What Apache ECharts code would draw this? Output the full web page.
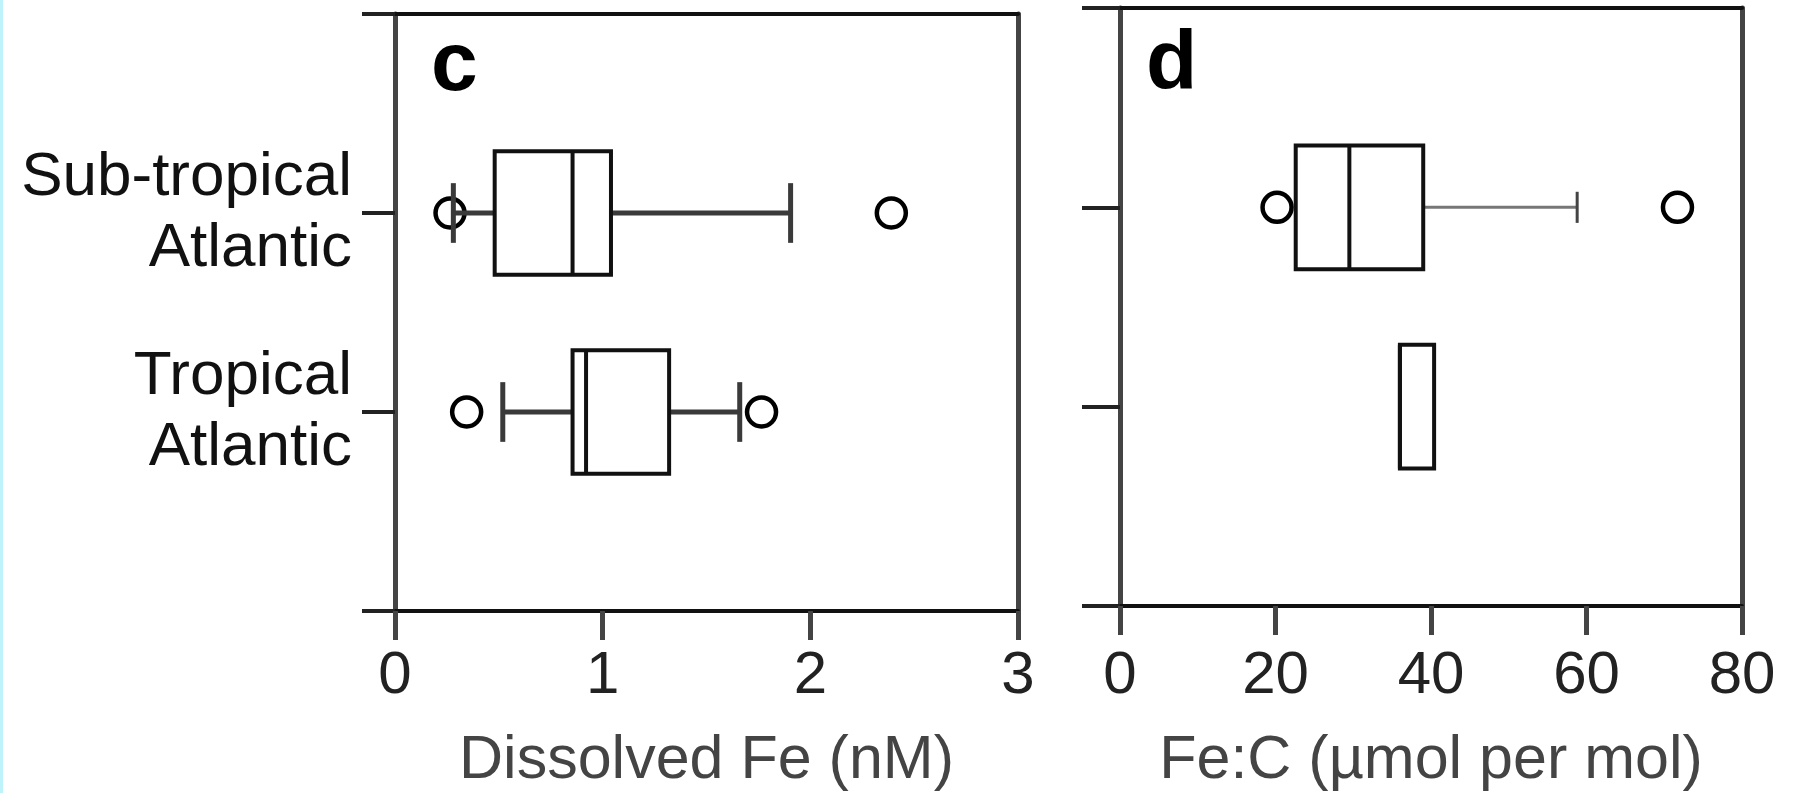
<!DOCTYPE html>
<html><head><meta charset="utf-8">
<script src="https://cdn.jsdelivr.net/npm/echarts@6/dist/echarts.min.js"></script>
<style>
html,body{margin:0;padding:0;background:#fff;overflow:hidden}
#chart{position:absolute;left:0;top:0;width:1802px;height:793px}
#edge{position:absolute;left:0;top:0;width:3px;height:793px;background:#bff3fb;z-index:5}
</style></head>
<body><div id="chart"></div><div id="edge"></div>
<script>
// ---- data ----
const categories = ['Sub-tropical\nAtlantic', 'Tropical\nAtlantic'];
// [lower whisker, Q1, median, Q3, upper whisker]
const feSubBox = [0.281, 0.48, 0.855, 1.04, 1.905];
const feTropBox = [0.519, 0.855, 0.92, 1.32, 1.66];
const feSubOutliers = [0.265, 2.39];
const feTropOutliers = [0.345, 1.765];
const feTicks = [0, 1, 2, 3];

const fecSubBox = [22.6, 22.6, 29.5, 39.0, 58.8];
const fecTropBox = [36.0, 36.0, 36.0, 40.4, 40.4];
const fecSubOutliers = [20.2, 71.7];
const fecTropOutliers = [];
const fecTicks = [0, 20, 40, 60, 80];

const FONT = "'Liberation Sans', Arial, Helvetica, sans-serif";
const yCats = [''].concat(categories, ['']);

function makeRender(st) {
  return function (params, api) {
    const cat = api.value(0);
    const lo = api.value(1), q1 = api.value(2), med = api.value(3), q3 = api.value(4), hi = api.value(5);
    const yc = api.coord([q1, cat])[1];
    const step = Math.abs(api.coord([q1, cat + 1])[1] - yc);
    const bh = step * st.boxHalf, ch = step * st.capHalf;
    const X = v => api.coord([v, cat])[0];
    const w = { stroke: st.whiskerColor, lineWidth: st.whiskerWidth };
    const c = { stroke: st.capColor, lineWidth: st.capWidth };
    const children = [];
    if (lo < q1) {
      children.push({ type: 'line', shape: { x1: X(lo), y1: yc, x2: X(q1), y2: yc }, style: w });
      children.push({ type: 'line', shape: { x1: X(lo), y1: yc - ch, x2: X(lo), y2: yc + ch }, style: c });
    }
    if (hi > q3) {
      children.push({ type: 'line', shape: { x1: X(q3), y1: yc, x2: X(hi), y2: yc }, style: w });
      children.push({ type: 'line', shape: { x1: X(hi), y1: yc - ch, x2: X(hi), y2: yc + ch }, style: c });
    }
    children.push({ type: 'rect', shape: { x: X(q1), y: yc - bh, width: X(q3) - X(q1), height: 2 * bh },
      style: { fill: '#fff', stroke: st.boxColor, lineWidth: st.boxWidth } });
    children.push({ type: 'line', shape: { x1: X(med), y1: yc - bh, x2: X(med), y2: yc + bh },
      style: { stroke: st.boxColor, lineWidth: st.boxWidth } });
    return { type: 'group', children: children };
  };
}

function bottomAxis(gi, ticks, name, labelMargin, nameGap) {
  return {
    gridIndex: gi, type: 'value', position: 'bottom',
    min: ticks[0], max: ticks[ticks.length - 1], interval: ticks[1] - ticks[0],
    axisLine: { show: true, onZero: false, lineStyle: { color: '#111', width: 4 } },
    axisTick: { show: true, length: 29, lineStyle: { color: '#444', width: 5 } },
    axisLabel: { fontSize: 60, margin: labelMargin, color: '#222', fontFamily: FONT },
    splitLine: { show: false },
    name: name, nameLocation: 'middle', nameGap: nameGap,
    nameTextStyle: { fontSize: 61, color: '#444', fontFamily: FONT }
  };
}
function topAxis(gi, ticks) {
  return {
    gridIndex: gi, type: 'value', position: 'top',
    min: ticks[0], max: ticks[ticks.length - 1],
    axisLine: { show: true, onZero: false, lineStyle: { color: '#111', width: 4 } },
    axisTick: { show: false }, axisLabel: { show: false }, splitLine: { show: false }
  };
}
function leftAxis(gi, tickLen, showLabels) {
  return {
    gridIndex: gi, type: 'category', data: yCats, inverse: true, boundaryGap: false,
    axisLine: { show: true, onZero: false, lineStyle: { color: '#444', width: 5 } },
    axisTick: { show: true, length: tickLen, interval: 0, lineStyle: { color: '#222', width: 4 } },
    axisLabel: { show: showLabels, interval: 0, fontSize: 62, lineHeight: 71, color: '#111',
      margin: 43, fontFamily: FONT, padding: [0, 0, 12, 0] },
    splitLine: { show: false }
  };
}
function rightAxis(gi) {
  return {
    gridIndex: gi, type: 'value', position: 'right',
    axisLine: { show: true, onZero: false, lineStyle: { color: '#444', width: 5 } },
    axisTick: { show: false }, axisLabel: { show: false }, splitLine: { show: false }
  };
}

const styleC = { boxHalf: 0.31, capHalf: 0.15, whiskerColor: '#3a3a3a', whiskerWidth: 5,
  capColor: '#3a3a3a', capWidth: 5, boxColor: '#111', boxWidth: 4 };
const styleD = { boxHalf: 0.31, capHalf: 0.078, whiskerColor: '#777', whiskerWidth: 3,
  capColor: '#444', capWidth: 3, boxColor: '#111', boxWidth: 4 };

const outlierStyle = { color: 'rgba(0,0,0,0)', borderColor: '#000', borderWidth: 4.5, opacity: 1 };

const chart = echarts.init(document.getElementById('chart'), null, { renderer: 'canvas' });
chart.setOption({
  backgroundColor: '#fff',
  animation: false,
  title: [
    { text: 'c', left: 431, top: 25, padding: 0, textStyle: { fontSize: 84, fontWeight: 'bold', color: '#000', fontFamily: FONT } },
    { text: 'd', left: 1146, top: 24, padding: 0, textStyle: { fontSize: 84, fontWeight: 'bold', color: '#000', fontFamily: FONT } }
  ],
  grid: [
    { left: 395, top: 14, width: 623, height: 597, containLabel: false, outerBoundsMode: 'none' },
    { left: 1120, top: 8, width: 622, height: 598, containLabel: false, outerBoundsMode: 'none' }
  ],
  xAxis: [
    bottomAxis(0, feTicks, 'Dissolved Fe (nM)', 35, 120),
    topAxis(0, feTicks),
    bottomAxis(1, fecTicks, 'Fe:C (\u00b5mol per mol)', 40, 125),
    topAxis(1, fecTicks)
  ],
  yAxis: [
    leftAxis(0, 33, true),
    rightAxis(0),
    leftAxis(1, 38, false),
    rightAxis(1)
  ],
  series: [
    { type: 'scatter', xAxisIndex: 0, yAxisIndex: 0, z: 1, symbol: 'circle', symbolSize: 29,
      itemStyle: outlierStyle, silent: true,
      data: feSubOutliers.map(v => [v, 1]).concat(feTropOutliers.map(v => [v, 2])) },
    { type: 'custom', xAxisIndex: 0, yAxisIndex: 0, z: 2, renderItem: makeRender(styleC),
      encode: { x: [1, 2, 3, 4, 5], y: 0 },
      data: [[1].concat(feSubBox), [2].concat(feTropBox)] },
    { type: 'scatter', xAxisIndex: 2, yAxisIndex: 2, z: 1, symbol: 'circle', symbolSize: 29,
      itemStyle: outlierStyle, silent: true,
      data: fecSubOutliers.map(v => [v, 1]).concat(fecTropOutliers.map(v => [v, 2])) },
    { type: 'custom', xAxisIndex: 2, yAxisIndex: 2, z: 2, renderItem: makeRender(styleD),
      encode: { x: [1, 2, 3, 4, 5], y: 0 },
      data: [[1].concat(fecSubBox), [2].concat(fecTropBox)] }
  ]
});
</script>
</body></html>
